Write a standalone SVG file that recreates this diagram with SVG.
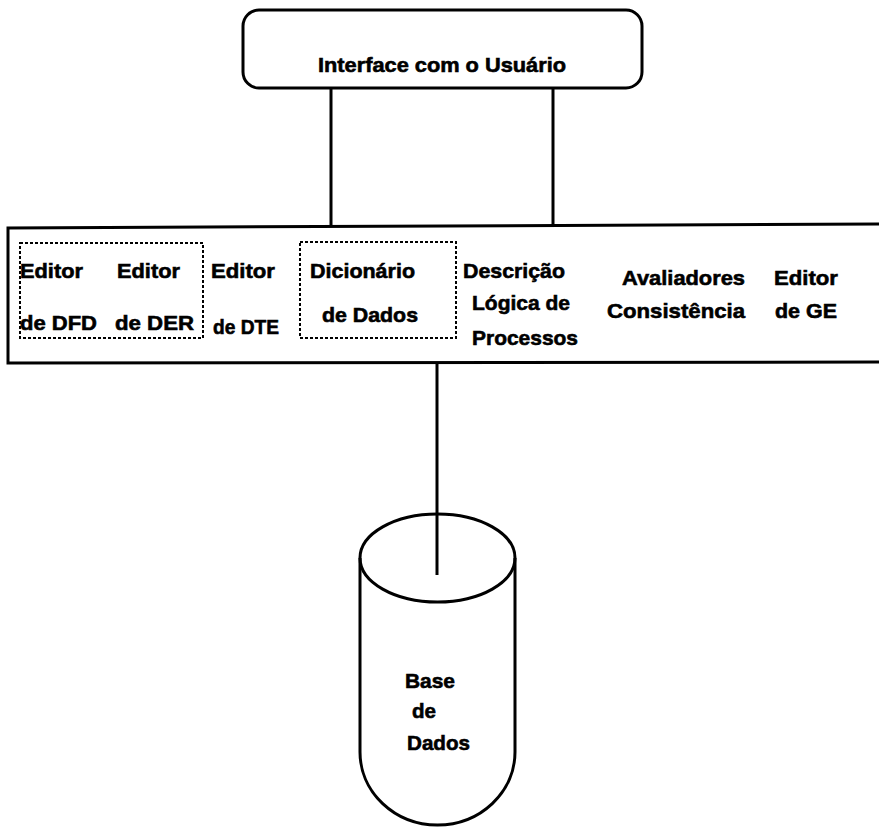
<svg xmlns="http://www.w3.org/2000/svg" width="879" height="827" viewBox="0 0 879 827">
<style>
.t{font-family:"Liberation Sans",Arial,sans-serif;font-weight:bold;font-size:21px;fill:#000;stroke:#000;stroke-width:0.6}
.s{fill:none;stroke:#000;stroke-width:3}
.d{fill:none;stroke:#000;stroke-width:2;stroke-dasharray:3 2}
</style>
<rect width="879" height="827" fill="#fff"/>
<g id="connectors">
<line class="s" x1="331" y1="88" x2="331" y2="227"/>
<line class="s" x1="553" y1="88" x2="553" y2="226"/>
<line class="s" x1="437" y1="363" x2="437" y2="575"/>
</g>
<g id="interface">
<rect class="s" x="243" y="10" width="399" height="78" rx="16"/>
<text class="t" x="318" y="72" textLength="248" lengthAdjust="spacingAndGlyphs">Interface com o Usuário</text>
</g>
<g id="ferramentas">
<path class="s" d="M879 224 L8 228 L8 363 L879 362"/>
<rect class="d" x="20" y="243" width="183" height="95"/>
<rect class="d" x="300" y="242" width="156" height="96"/>
</g>
<g id="editor-dfd">
<text class="t" x="20" y="278" textLength="63" lengthAdjust="spacingAndGlyphs">Editor</text>
<text class="t" x="20" y="330" textLength="77" lengthAdjust="spacingAndGlyphs">de DFD</text>
</g>
<g id="editor-der">
<text class="t" x="117" y="278" textLength="63" lengthAdjust="spacingAndGlyphs">Editor</text>
<text class="t" x="115" y="330" textLength="79" lengthAdjust="spacingAndGlyphs">de DER</text>
</g>
<g id="editor-dte">
<text class="t" x="211" y="278" textLength="64" lengthAdjust="spacingAndGlyphs">Editor</text>
<text class="t" x="213" y="334" textLength="66" lengthAdjust="spacingAndGlyphs">de DTE</text>
</g>
<g id="dicionario">
<text class="t" x="310" y="278" textLength="105" lengthAdjust="spacingAndGlyphs">Dicionário</text>
<text class="t" x="322" y="322" textLength="96" lengthAdjust="spacingAndGlyphs">de Dados</text>
</g>
<g id="descricao">
<text class="t" x="463" y="278" textLength="102" lengthAdjust="spacingAndGlyphs">Descrição</text>
<text class="t" x="472" y="310" textLength="98" lengthAdjust="spacingAndGlyphs">Lógica de</text>
<text class="t" x="472" y="345" textLength="106" lengthAdjust="spacingAndGlyphs">Processos</text>
</g>
<g id="avaliadores">
<text class="t" x="622" y="285" textLength="123" lengthAdjust="spacingAndGlyphs">Avaliadores</text>
<text class="t" x="607" y="318" textLength="138" lengthAdjust="spacingAndGlyphs">Consistência</text>
</g>
<g id="editor-ge">
<text class="t" x="774" y="285" textLength="64" lengthAdjust="spacingAndGlyphs">Editor</text>
<text class="t" x="775" y="318" textLength="62" lengthAdjust="spacingAndGlyphs">de GE</text>
</g>
<g id="base-dados">
<ellipse class="s" cx="437.5" cy="558" rx="77.5" ry="44"/>
<path class="s" d="M360 558 L360 752 A77.5 73 0 0 0 515 752 L515 558"/>
<text class="t" x="405" y="688" textLength="50" lengthAdjust="spacingAndGlyphs">Base</text>
<text class="t" x="412" y="718" textLength="24" lengthAdjust="spacingAndGlyphs">de</text>
<text class="t" x="407" y="750" textLength="63" lengthAdjust="spacingAndGlyphs">Dados</text>
</g>
</svg>
